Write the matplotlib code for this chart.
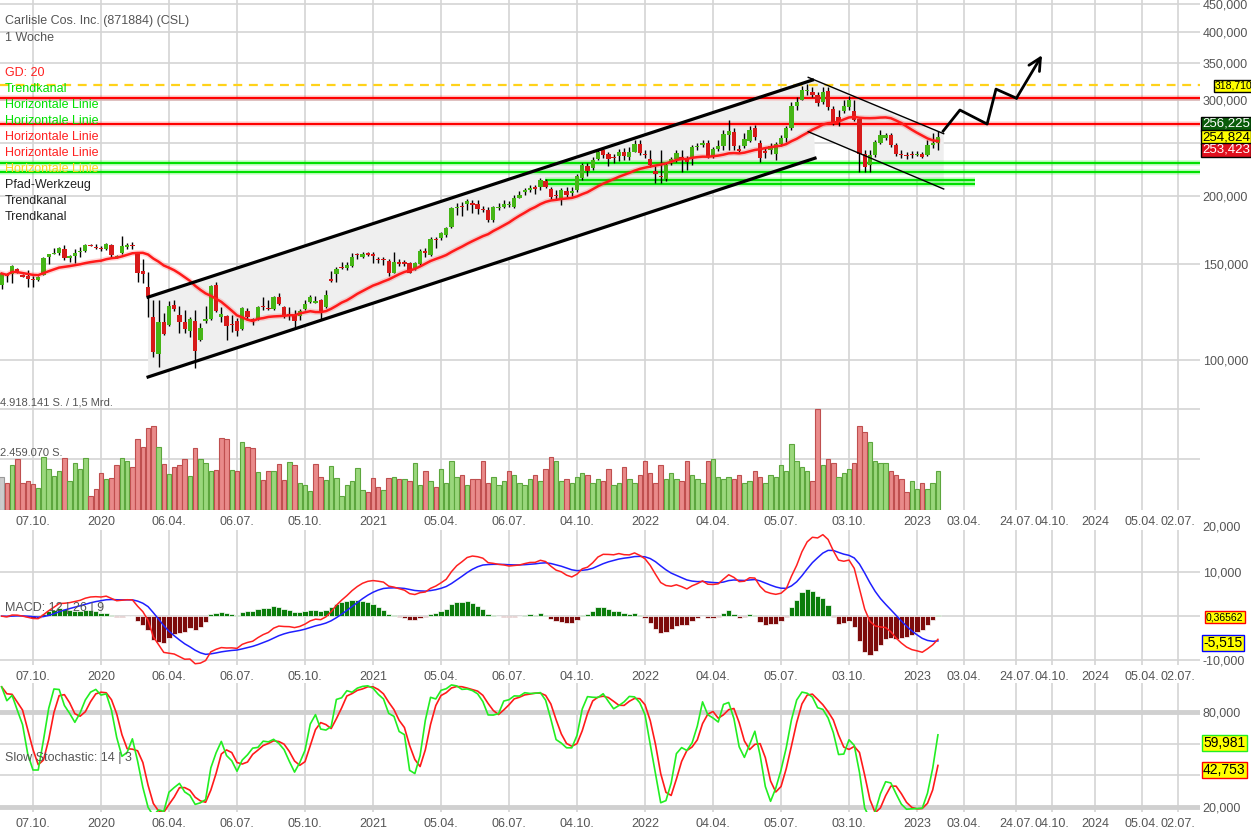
import matplotlib
matplotlib.use("Agg")
import matplotlib.pyplot as plt
import numpy as np
import pandas as pd

plt.rcParams['font.family'] = ['Liberation Sans', 'DejaVu Sans']

# weekly candles, index 0 = week of 26.08.2019
opens = [
    137.2, 143.0, 143.7, 146.8, 143.1, 142.5, 140.7, 140.2, 143.1, 154.6,
    156.4, 157.0, 159.7, 154.0, 155.2, 157.6, 158.6, 162.5, 161.2, 159.9,
    159.7, 162.5, 153.9, 156.8, 160.9, 162.0, 157.5, 145.5, 135.9, 119.7,
    102.6, 117.5, 115.9, 126.1, 120.9, 117.2, 113.2, 117.9, 108.8, 118.0,
    119.1, 137.2, 119.7, 120.4, 116.3, 118.0, 113.8, 123.0, 118.7, 118.8,
    125.2, 124.4, 124.0, 130.5, 125.0, 121.1, 120.9, 120.4, 123.8, 127.9,
    127.4, 128.8, 124.9, 140.2, 143.7, 147.9, 147.2, 148.7, 155.9, 154.2,
    156.8, 156.2, 152.9, 152.9, 151.8, 144.5, 151.2, 150.6, 150.4, 147.2,
    149.9, 158.4, 155.7, 166.1, 167.2, 169.5, 175.0, 190.2, 191.1, 193.1,
    194.0, 193.1, 188.8, 188.6, 180.8, 190.2, 191.1, 192.5, 191.1, 198.4,
    202.8, 204.9, 206.7, 207.2, 213.1, 205.4, 200.1, 197.0, 204.3, 202.0,
    204.9, 215.3, 227.0, 225.3, 233.2, 242.6, 238.5, 234.9, 236.2, 240.7,
    235.2, 240.7, 248.7, 237.8, 233.2, 222.2, 217.1, 214.6, 229.9, 233.2,
    235.7, 233.2, 235.2, 245.4, 247.7, 250.1, 236.5, 243.3, 247.0, 258.4,
    261.4, 243.1, 247.0, 252.3, 265.7, 250.1, 241.6, 242.6, 239.0, 248.7,
    255.1, 265.7, 292.0, 300.2, 311.0, 309.6, 305.9, 297.6, 310.8, 287.9,
    279.3, 286.6, 291.5, 285.9, 276.1, 238.5, 227.7, 237.5, 249.5, 255.4,
    258.4, 247.7, 238.5, 236.9, 237.8, 237.8, 238.5, 237.5, 247.7, 250.1,
]
highs = [
    144.5, 144.5, 149.1, 147.2, 143.7, 146.0, 142.5, 142.6, 154.2, 156.7,
    160.4, 161.2, 162.5, 155.7, 159.6, 161.2, 163.2, 163.0, 163.2, 162.0,
    164.1, 163.2, 155.7, 168.8, 163.9, 164.6, 157.9, 152.9, 145.1, 128.8,
    128.8, 121.8, 128.4, 128.8, 125.6, 123.5, 119.7, 123.5, 117.0, 125.6,
    137.4, 139.1, 125.3, 120.9, 120.9, 119.4, 124.9, 124.4, 119.6, 125.6,
    130.7, 128.8, 131.0, 132.6, 125.8, 125.0, 123.5, 123.8, 128.8, 131.6,
    131.0, 129.2, 134.4, 145.8, 147.9, 151.4, 151.2, 156.8, 156.8, 157.5,
    157.9, 157.9, 154.2, 154.6, 152.9, 157.9, 153.1, 152.5, 151.4, 151.4,
    159.6, 160.4, 167.9, 168.3, 171.9, 175.6, 191.0, 193.9, 195.1, 196.9,
    196.4, 196.4, 191.4, 190.7, 191.4, 193.9, 196.4, 195.5, 200.6, 203.7,
    206.6, 209.3, 209.3, 215.5, 214.6, 207.6, 204.9, 206.6, 207.6, 207.6,
    219.2, 229.6, 229.6, 235.5, 243.4, 244.4, 240.7, 238.5, 243.4, 244.4,
    245.4, 253.0, 253.0, 242.6, 242.6, 226.7, 242.6, 229.6, 235.5, 242.6,
    242.6, 236.5, 247.7, 249.8, 253.0, 253.0, 245.4, 253.0, 263.9, 275.3,
    266.1, 247.7, 260.7, 268.6, 269.5, 253.0, 244.4, 249.8, 251.0, 258.4,
    268.6, 296.8, 303.0, 318.2, 320.4, 317.1, 310.2, 316.0, 316.0, 292.1,
    287.2, 299.5, 305.0, 299.5, 277.0, 242.6, 243.1, 253.0, 263.9, 260.7,
    260.7, 249.8, 242.6, 240.7, 241.6, 241.6, 240.7, 253.0, 260.7, 262.4,
]
lows = [
    134.8, 138.8, 138.2, 144.1, 141.7, 136.0, 136.0, 139.8, 142.9, 149.9,
    156.2, 155.7, 152.5, 151.4, 150.4, 154.6, 157.9, 161.5, 159.6, 158.6,
    159.1, 154.6, 153.5, 156.4, 160.1, 160.1, 138.8, 138.2, 120.0, 101.4,
    97.2, 111.1, 115.4, 123.0, 112.2, 112.2, 110.3, 96.6, 108.5, 117.0,
    118.4, 122.6, 117.5, 108.8, 112.7, 110.6, 113.5, 118.4, 115.9, 118.4,
    123.5, 123.5, 123.5, 126.1, 119.4, 118.4, 114.3, 118.4, 123.5, 127.4,
    127.1, 118.8, 124.4, 139.1, 139.1, 146.6, 146.2, 148.3, 153.3, 153.5,
    154.9, 150.8, 150.4, 149.3, 142.5, 144.2, 148.7, 148.7, 144.2, 146.2,
    149.5, 154.4, 154.9, 160.4, 165.9, 168.3, 174.3, 184.4, 183.6, 188.3,
    186.3, 185.3, 186.9, 178.9, 179.4, 188.3, 189.9, 190.7, 189.9, 197.8,
    200.6, 203.1, 201.5, 204.9, 206.6, 197.2, 196.4, 192.3, 199.0, 199.8,
    203.1, 213.7, 217.5, 222.9, 232.5, 234.4, 226.7, 229.6, 231.5, 232.5,
    232.5, 240.5, 237.5, 234.4, 225.7, 211.1, 211.1, 212.8, 227.7, 230.6,
    221.0, 222.9, 227.7, 242.6, 245.4, 234.4, 234.4, 241.6, 242.6, 242.6,
    242.6, 240.5, 244.4, 251.0, 253.0, 230.9, 234.4, 238.5, 232.5, 246.9,
    251.0, 263.9, 287.0, 299.5, 305.9, 303.6, 292.1, 295.0, 287.2, 269.5,
    268.4, 283.6, 287.2, 274.2, 221.4, 221.4, 221.4, 235.5, 248.7, 253.0,
    245.4, 236.5, 234.4, 233.5, 234.4, 236.5, 234.4, 236.5, 244.4, 242.6,
]
closes = [
    144.1, 142.4, 148.7, 144.5, 142.1, 140.7, 140.2, 142.1, 153.8, 156.2,
    157.3, 160.4, 153.5, 155.0, 157.2, 158.6, 162.5, 161.8, 160.6, 159.6,
    163.4, 155.5, 154.9, 161.7, 162.7, 161.6, 144.5, 143.5, 131.2, 103.6,
    117.5, 111.6, 125.6, 123.8, 117.2, 114.0, 119.1, 104.0, 114.6, 119.1,
    136.6, 123.2, 121.4, 115.4, 115.7, 113.0, 124.4, 119.9, 118.4, 125.0,
    124.9, 123.8, 130.5, 126.6, 120.4, 120.6, 117.9, 123.0, 126.6, 130.3,
    127.9, 122.6, 131.6, 139.8, 146.8, 147.4, 149.3, 154.2, 155.5, 156.5,
    155.9, 154.9, 152.5, 152.5, 144.2, 151.4, 149.9, 150.2, 144.5, 150.4,
    158.4, 156.8, 166.6, 165.7, 170.8, 174.9, 189.6, 191.0, 190.7, 195.8,
    192.3, 189.1, 188.4, 180.8, 190.5, 191.0, 193.2, 193.0, 198.4, 200.6,
    204.9, 206.8, 206.2, 213.7, 207.2, 198.7, 199.5, 204.9, 200.6, 204.3,
    217.5, 227.7, 222.0, 232.5, 240.7, 237.5, 233.2, 234.4, 240.7, 236.8,
    240.7, 248.7, 239.4, 237.2, 227.7, 219.2, 216.6, 227.7, 233.2, 239.9,
    232.5, 230.9, 245.9, 245.9, 250.1, 235.7, 243.3, 246.9, 259.7, 262.8,
    247.0, 242.1, 253.8, 263.9, 256.5, 234.9, 239.6, 246.9, 248.7, 254.8,
    265.7, 292.3, 296.6, 312.4, 312.4, 305.9, 296.4, 309.6, 291.3, 272.5,
    273.3, 292.6, 300.2, 275.9, 238.5, 226.2, 237.5, 251.2, 258.4, 258.4,
    247.7, 238.5, 237.8, 236.5, 237.2, 238.3, 235.9, 247.7, 250.1, 256.2,
]
# volume in millions of shares
volumes = [
    1.59, 1.30, 2.19, 2.47, 1.30, 1.43, 1.27, 1.06, 2.60, 2.00,
    1.66, 1.90, 2.55, 1.41, 2.27, 1.98, 2.52, 0.70, 1.02, 1.82,
    1.51, 1.54, 2.18, 2.52, 2.39, 2.11, 3.44, 3.05, 3.98, 4.09,
    3.05, 2.24, 1.74, 2.08, 2.19, 2.47, 1.66, 3.00, 2.47, 2.27,
    1.90, 1.95, 3.49, 3.46, 1.95, 1.90, 3.33, 3.08, 3.00, 1.87,
    1.46, 1.91, 1.90, 2.24, 1.46, 2.35, 2.19, 1.33, 1.22, 0.93,
    2.24, 1.59, 1.46, 2.16, 1.54, 0.68, 1.22, 1.41, 2.03, 0.97,
    0.86, 1.54, 1.10, 0.97, 1.57, 1.62, 1.51, 1.50, 1.40, 2.30,
    1.20, 1.90, 1.40, 1.10, 2.00, 1.30, 2.40, 1.60, 1.70, 1.20,
    1.50, 1.50, 2.40, 1.30, 1.60, 1.20, 1.40, 1.90, 1.70, 1.30,
    1.20, 1.50, 1.70, 1.40, 2.00, 2.60, 2.40, 1.40, 1.50, 1.30,
    1.60, 1.80, 1.70, 1.30, 1.50, 1.40, 2.00, 1.20, 1.30, 2.10,
    1.50, 1.30, 1.70, 2.40, 1.80, 1.30, 2.20, 1.50, 1.80, 1.50,
    1.40, 2.40, 1.70, 1.50, 1.30, 2.40, 2.50, 1.60, 1.50, 1.60,
    1.50, 1.70, 1.30, 1.40, 1.90, 1.60, 1.30, 1.70, 1.60, 2.20,
    1.90, 3.20, 2.40, 2.10, 1.90, 1.40, 4.918, 2.20, 2.50, 2.30,
    1.60, 1.80, 2.00, 2.30, 4.10, 3.80, 3.30, 2.40, 2.30, 2.30,
    1.90, 1.70, 1.50, 0.90, 1.40, 1.00, 1.30, 1.00, 1.30, 1.90,
]

tick_pos = [6, 19, 32, 45, 58, 71, 84, 97, 110, 123, 136, 149, 162, 175,
            184.0, 194.0, 200.8, 209.1, 218.0, 224.9]
tick_labels = ['07.10.', '2020', '06.04.', '06.07.', '05.10.', '2021', '05.04.',
               '06.07.', '04.10.', '2022', '04.04.', '05.07.', '03.10.', '2023',
               '03.04.', '24.07.', '04.10.', '2024', '05.04.', '02.07.']

# drawing tools (week index, price)
channel1_upper = [(28.0, 130.4), (155.0, 325.9)]
channel1_lower = [(28.0, 93.1), (155.5, 234.4)]
channel2_upper = [(154.2, 329.7), (180.1, 259.9)]
channel2_lower = [(154.2, 262.1), (180.1, 205.8)]
red_levels = [302.0, 270.7]
green_levels = [229.4, 220.7]
green_short = [213.7, 210.3]
green_short_span = (103.9, 186.1)
yellow_level = 318.71
path_x = [180.0, 183.2, 188.4, 190.1, 194.0, 198.9]
path_y = [262.8, 287.2, 270.7, 313.7, 301.9, 362.0]

W, H = 1251, 835
GRID = '#d4d4d4'
TXT = '#555555'
GREEN = '#45b516'
RED = '#d71a1a'

o = np.array(opens); h = np.array(highs); l = np.array(lows); c = np.array(closes)
vol = np.array(volumes)
x = np.arange(len(c))
cs = pd.Series(c)

ma20 = cs.rolling(20, min_periods=1).mean()
macd = cs.ewm(span=12, adjust=False).mean() - cs.ewm(span=26, adjust=False).mean()
signal = macd.ewm(span=9, adjust=False).mean()
hist = macd - signal
hh = pd.Series(h).rolling(14, min_periods=1).max()
ll = pd.Series(l).rolling(14, min_periods=1).min()
raw_k = 100 * (cs - ll) / (hh - ll)
slow_k = raw_k.rolling(3, min_periods=1).mean()
slow_d = slow_k.rolling(3, min_periods=1).mean()

fig = plt.figure(figsize=(W / 100, H / 100), dpi=100)


def add_ax(top, bottom):
    return fig.add_axes([0, 1 - bottom / H, 1200 / W, (bottom - top) / H])


ax_p = add_ax(0, 398)
ax_v = add_ax(398, 510)
ax_m = add_ax(530, 665)
ax_s = add_ax(683, 812)

xlim = (-0.31, 229.1)
for ax in (ax_p, ax_v, ax_m, ax_s):
    ax.set_xlim(*xlim)
    for s in ax.spines.values():
        s.set_visible(False)
    ax.set_axisbelow(True)
    ax.set_xticks(tick_pos)
    ax.set_xticklabels(tick_labels)
    ax.grid(True, color=GRID, lw=1.2)
    ax.yaxis.tick_right()
    ax.tick_params(length=0, pad=2, labelsize=9, labelcolor=TXT)
    ax.tick_params(axis='x', pad=4)
ax_p.tick_params(labelbottom=False)


def de_fmt(v, nd=3):
    return f"{v:.{nd}f}".replace('.', ',')


# ---- price panel
ax_p.set_yscale('log')
ax_p.set_ylim(85.2, 456.9)
pticks = [100, 150, 200, 250, 300, 350, 400, 450]
ax_p.set_yticks(pticks)
# the 250 label sits under the value boxes
ax_p.set_yticklabels(['' if v == 250 else de_fmt(v) for v in pticks])
ax_p.yaxis.set_minor_locator(matplotlib.ticker.NullLocator())

for up, lo, lw in ((channel1_upper, channel1_lower, 2.3), (channel2_upper, channel2_lower, 1.0)):
    ax_p.fill([up[0][0], up[1][0], lo[1][0], lo[0][0]],
              [up[0][1], up[1][1], lo[1][1], lo[0][1]], color='#efefef', lw=0, zorder=1)
    ax_p.plot([p[0] for p in up], [p[1] for p in up], color='black', lw=lw, zorder=5)
    ax_p.plot([p[0] for p in lo], [p[1] for p in lo], color='black', lw=lw, zorder=5)

for lv in red_levels:
    ax_p.axhline(lv, color='#ff0000', lw=4, alpha=0.15, zorder=2)
    ax_p.axhline(lv, color='#ff0000', lw=1.6, zorder=2)
for lv in green_levels:
    ax_p.axhline(lv, color='#00ff00', lw=4, alpha=0.2, zorder=2)
    ax_p.axhline(lv, color='#00e000', lw=1.6, zorder=2)
for lv in green_short:
    ax_p.hlines(lv, *green_short_span, color='#00ff00', lw=4, alpha=0.2, zorder=2)
    ax_p.hlines(lv, *green_short_span, color='#00e000', lw=1.6, zorder=2)
ax_p.axhline(yellow_level, color='#ffd21a', lw=1.6, ls=(0, (4, 3)), zorder=2)

# candles
up_mask = c >= o
ax_p.vlines(x, l, h, color='black', lw=1, zorder=3)
body_lo = np.minimum(o, c)
body_h = np.maximum(np.abs(c - o), body_lo * 0.005)
ax_p.bar(x, body_h, bottom=body_lo, width=0.82,
         color=np.where(up_mask, GREEN, RED), lw=0, zorder=4)

ax_p.plot(x, ma20, color='#ff0000', lw=4, alpha=0.15, zorder=4)
ax_p.plot(x, ma20, color='#ff1a1a', lw=1.8, zorder=4)

ax_p.plot(path_x[:-1], path_y[:-1], color='black', lw=2, zorder=6)
ax_p.annotate('', xy=(path_x[-1], path_y[-1]), xytext=(path_x[-2], path_y[-2]),
              arrowprops=dict(arrowstyle='->', lw=2, color='black', mutation_scale=22,
                              shrinkA=0, shrinkB=0), zorder=6)

# ---- volume panel
ax_v.set_ylim(0, 5.453)
ax_v.set_yticks([2.459, 4.918])
ax_v.set_yticklabels([])
vcols, vedges = [], []
for i in range(len(vol)):
    if i == 0:
        vcols.append('#cccccc'); vedges.append('#9a9a9a')
    elif c[i] >= c[i - 1]:
        vcols.append('#9ad77c'); vedges.append('#5da63e')
    else:
        vcols.append('#e98a8a'); vedges.append('#bf4f4f')
ax_v.bar(x, vol, width=0.85, color=vcols, edgecolor=vedges, lw=0.8, zorder=3)

# ---- MACD panel
ax_m.set_ylim(-11.03, 19.48)
ax_m.set_yticks([-10, 0, 10])
ax_m.set_yticklabels(['-10,000', '', '10,000'])
ax_m.bar(x, hist, width=1.0, color=np.where(hist >= 0, '#0b7d0b', '#7d0b0b'),
         edgecolor='white', lw=0.5, zorder=3)
ax_m.plot(x, signal, color='#1f1fff', lw=1.1, zorder=4)
ax_m.plot(x, macd, color='#ff2020', lw=1.1, zorder=5)

# ---- Stochastic panel
ax_s.set_ylim(16.84, 98.3)
ax_s.set_yticks([20, 40, 60, 80])
ax_s.set_yticklabels(['20,000', '', '', '80,000'])
for lv in (20, 80):
    ax_s.axhline(lv, color='#d0d0d0', lw=3.5, zorder=1)
ax_s.plot(x, slow_d, color='#ff1a1a', lw=1.2, zorder=4)
ax_s.plot(x, slow_k, color='#22ee22', lw=1.2, zorder=5)


def ftext(px, py, s, **kw):
    kw.setdefault('fontsize', 9)
    kw.setdefault('va', 'center')
    fig.text(px / W, 1 - py / H, s, **kw)


ftext(5, 21, 'Carlisle Cos. Inc. (871884) (CSL)', color=TXT)
ftext(5, 38, '1 Woche', color=TXT)
legend_items = [('GD: 20', '#ff2020'), ('Trendkanal', '#00e000'),
                ('Horizontale Linie', '#00e000'), ('Horizontale Linie', '#00e000'),
                ('Horizontale Linie', '#ff2020'), ('Horizontale Linie', '#ff2020'),
                ('Horizontale Linie', '#ffd21a'), ('Pfad-Werkzeug', '#222222'),
                ('Trendkanal', '#222222'), ('Trendkanal', '#222222')]
for k, (s, col) in enumerate(legend_items):
    ftext(5, 73 + 16 * k, s, color=col)

ftext(0, 402, '4.918.141 S. / 1,5 Mrd.', color=TXT, fontsize=8)
ftext(0, 453, '2.459.070 S.', color=TXT, fontsize=8)
ftext(5, 608, 'MACD: 12 | 26 | 9', color=TXT)
ftext(5, 758, 'Slow Stochastic: 14 | 3', color=TXT)
ftext(1202, 528, '20,000', color=TXT)

box_labels = [
    (1215, 86, '318,710', '#ffff00', 'black', 'black', 7.5),
    (1202, 124, '256,225', '#0a5c0a', 'white', 'black', 9.5),
    (1202, 137, '254,824', '#ffff00', 'black', 'black', 9.5),
    (1202, 150, '253,423', '#e0101e', 'white', 'black', 9.5),
    (1206, 617, '0,36562', '#ffff00', 'black', 'red', 7.5),
    (1203, 643, '-5,515', '#ffff00', 'black', 'blue', 10),
    (1203, 743, '59,981', '#ffff00', 'black', '#22ee22', 10),
    (1203, 770, '42,753', '#ffff00', 'black', 'red', 10),
]
for bx, by, s, fc, tc, ec, fs in box_labels:
    ftext(bx, by, s, color=tc, fontsize=fs,
          bbox=dict(boxstyle='square,pad=0.1', fc=fc, ec=ec, lw=1))

fig.savefig('out.png', dpi=100)
